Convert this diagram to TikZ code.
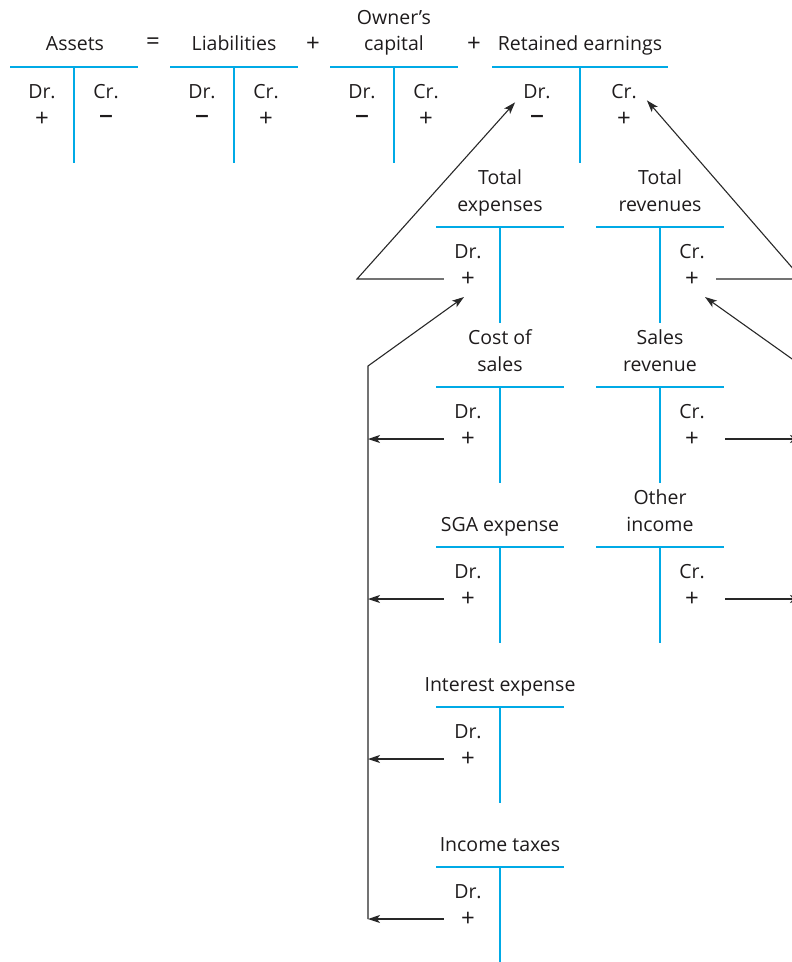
\documentclass[tikz,border=0pt]{standalone}
\usepackage{fontspec}
\setmainfont{Open Sans}
\newfontfamily\minusfont{DejaVu Sans}
\usetikzlibrary{arrows.meta}
\definecolor{tblue}{RGB}{0,170,230}
\definecolor{ink}{RGB}{30,27,28}
\definecolor{wire}{RGB}{40,40,40}
\tikzset{
  lbl/.style={inner sep=0pt, text=ink, font=\fontsize{19.5}{23}\selectfont},
  ttl/.style={lbl, anchor=base},
  sgn/.style={inner sep=0pt, text=ink, font=\fontsize{24}{28}\selectfont},
  tline/.style={draw=tblue, line width=1.4pt},
  conn/.style={draw=wire, line width=1.1pt},
  arr/.style={conn, -{Stealth[length=12pt,width=8pt,inset=3pt]}},
}
% bold minus sign for the decrease side of an account
\newcommand\mns{{\minusfont\bfseries\fontsize{19}{23}\selectfont −}}
% T-account: centre x, y of the horizontal rule, half width
\newcommand\tacct[3]{%
  \draw[tline] ({#1-#3},#2) -- ({#1+#3},#2);
  \draw[tline] (#1,#2) -- (#1,{#2+96});
}
\begin{document}
\begin{tikzpicture}[x=1pt,y=-1pt]
\useasboundingbox (0,0) rectangle (792,962);
\clip (0,0) rectangle (792,962);

% ---- accounting equation ----
\node[ttl] (assets) at (75,50) {Assets};
\node[sgn] (eq) at (153,44) {=};
\node[ttl] (liab) at (234,50) {Liabilities};
\node[sgn] (plusA) at (313,44) {+};
\node[ttl] (own1) at (394,24) {Owner’s};
\node[ttl] (own) at (394,50) {capital};
\node[sgn] (plusB) at (474,44) {+};
\node[ttl] (re) at (580,50) {Retained earnings};

\tacct{74}{67}{64}
\tacct{234}{67}{64}
\tacct{394}{67}{64}
\tacct{580}{67}{88}

\node[lbl] (asDr) at (42,92) {Dr.};   \node[sgn] (asDs) at (42,119) {+};
\node[lbl] (asCr) at (106,92) {Cr.};  \node[lbl] (asCs) at (106,119) {\mns};
\node[lbl] (liDr) at (202,92) {Dr.};  \node[lbl] (liDs) at (202,119) {\mns};
\node[lbl] (liCr) at (266,92) {Cr.};  \node[sgn] (liCs) at (266,119) {+};
\node[lbl] (owDr) at (362,92) {Dr.};  \node[lbl] (owDs) at (362,119) {\mns};
\node[lbl] (owCr) at (426,92) {Cr.};  \node[sgn] (owCs) at (426,119) {+};
\node[lbl] (reDr) at (537,92) {Dr.};  \node[lbl] (reDs) at (537,119) {\mns};
\node[lbl] (reCr) at (624,92) {Cr.};  \node[sgn] (reCs) at (624,119) {+};

% ---- totals ----
\node[ttl] (te1) at (500,184) {Total};
\node[ttl] (te) at (500,211) {expenses};
\node[ttl] (tr1) at (660,184) {Total};
\node[ttl] (tr) at (660,211) {revenues};
\tacct{500}{227}{64}
\tacct{660}{227}{64}
\node[lbl] (teDr) at (468,252) {Dr.};  \node[sgn] (teplus) at (468,279) {+};
\node[lbl] (trCr) at (692,252) {Cr.};  \node[sgn] (trplus) at (692,279) {+};

% ---- cost of sales / sales revenue ----
\node[ttl] (cos1) at (500,344) {Cost of};
\node[ttl] (cos) at (500,371) {sales};
\node[ttl] (sr1) at (660,344) {Sales};
\node[ttl] (sr) at (660,371) {revenue};
\tacct{500}{387}{64}
\tacct{660}{387}{64}
\node[lbl] (cosDr) at (468,412) {Dr.};  \node[sgn] (cosplus) at (468,439) {+};
\node[lbl] (srCr) at (692,412) {Cr.};   \node[sgn] (srplus) at (692,439) {+};

% ---- SGA expense / other income ----
\node[ttl] (sga) at (500,531) {SGA expense};
\node[ttl] (oi1) at (660,504) {Other};
\node[ttl] (oi) at (660,531) {income};
\tacct{500}{547}{64}
\tacct{660}{547}{64}
\node[lbl] (sgaDr) at (468,572) {Dr.};  \node[sgn] (sgaplus) at (468,599) {+};
\node[lbl] (oiCr) at (692,572) {Cr.};   \node[sgn] (oiplus) at (692,599) {+};

% ---- interest expense ----
\node[ttl] (ie) at (500,691) {Interest expense};
\tacct{500}{707}{64}
\node[lbl] (ieDr) at (468,732) {Dr.};  \node[sgn] (ieplus) at (468,759) {+};

% ---- income taxes ----
\node[ttl] (it) at (500,851) {Income taxes};
\tacct{500}{867}{64}
\node[lbl] (itDr) at (468,892) {Dr.};  \node[sgn] (itplus) at (468,919) {+};

% ---- closing flows ----
\coordinate (spineTop) at (368,366);
\coordinate (spineBot) at (368,919);
\coordinate (lcorner) at (357,0);
\coordinate (rspine) at (802,0);
\coordinate (rjoin) at (802,366);
\coordinate (teTip) at (464,297);
\coordinate (trTip) at (705,297);

\draw[arr] (spineBot) -- (spineTop) -- (teTip);
\draw[arr] ([xshift=-17pt]cosplus.west) -- (cosplus -| spineTop);
\draw[arr] ([xshift=-17pt]sgaplus.west) -- (sgaplus -| spineTop);
\draw[arr] ([xshift=-17pt]ieplus.west) -- (ieplus -| spineTop);
\draw[arr] ([xshift=-17pt]itplus.west) -- (itplus -| spineTop);

\draw[arr] ([xshift=-17pt]teplus.west) -- (teplus -| lcorner)
  -- ([shift={(-8pt,-3pt)}]reDr.south west);
\draw[arr] ([xshift=17pt]trplus.east) -- (trplus -| rspine)
  -- ([shift={(10pt,-1pt)}]reCr.south east);

\draw[conn] (trplus -| rspine) -- (oiplus -| rspine);
\draw[arr] (rjoin) -- (trTip);
\draw[arr] ([xshift=26pt]srplus.east) -- (srplus -| rspine);
\draw[arr] ([xshift=26pt]oiplus.east) -- (oiplus -| rspine);
\end{tikzpicture}
\end{document}
